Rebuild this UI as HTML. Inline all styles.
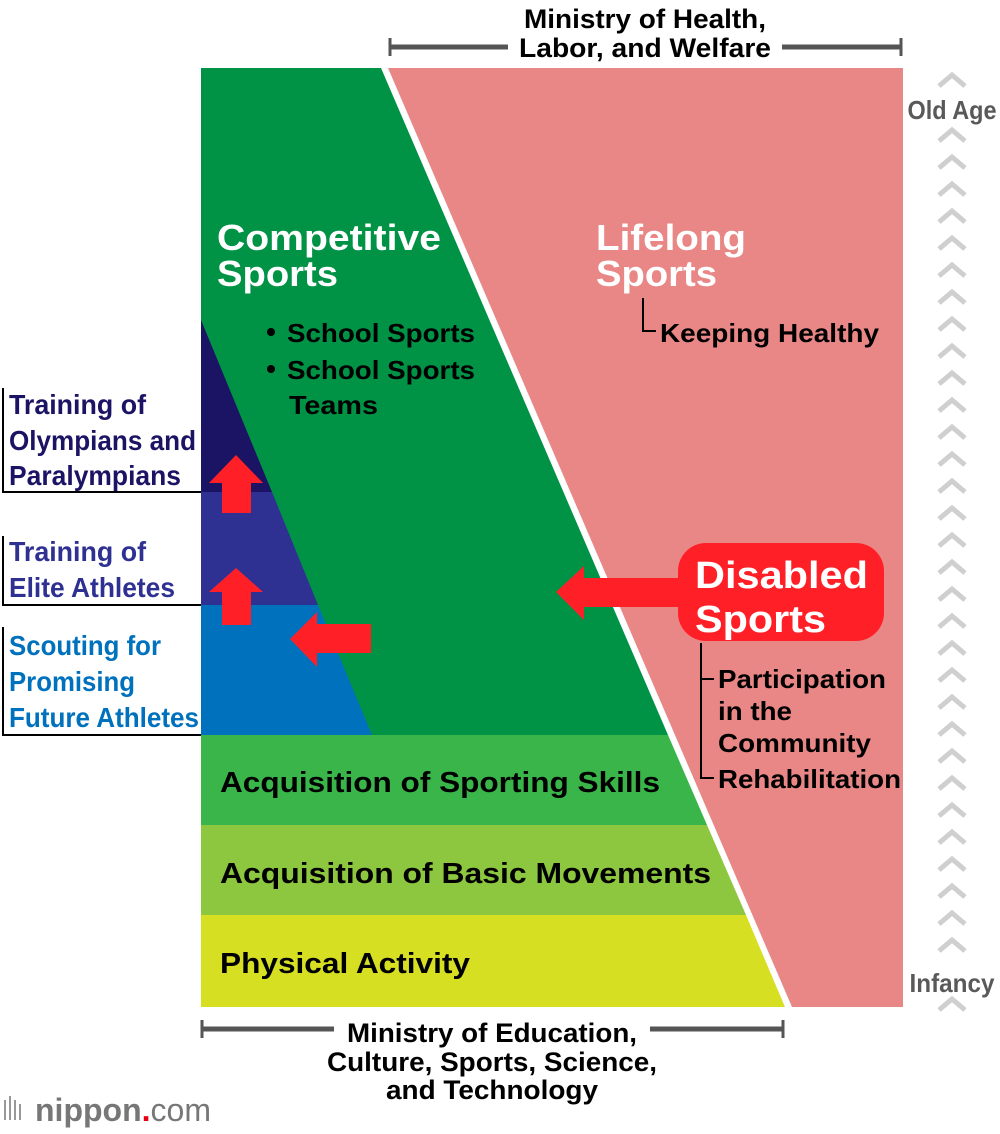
<!DOCTYPE html>
<html><head><meta charset="utf-8"><style>
html,body{margin:0;padding:0;background:#fff}
svg{display:block}
text{font-family:"Liberation Sans",Arial,sans-serif;font-weight:bold}
</style></head><body>
<svg width="1000" height="1134" viewBox="0 0 1000 1134" xmlns="http://www.w3.org/2000/svg">
<polygon points="388,68 903,68 903,1007 792,1007" fill="#e98686"/>
<polygon points="201,68 381,68 668,735 201,735" fill="#009245"/>
<polygon points="201,735 668,735 707,825 201,825" fill="#39b54a"/>
<polygon points="201,825 707,825 746,915 201,915" fill="#8dc63f"/>
<polygon points="201,915 746,915 785,1007 201,1007" fill="#d7df23"/>
<polygon points="201,320 272,492 201,492" fill="#1b1464"/>
<polygon points="201,492 272,492 318,605 201,605" fill="#2e3192"/>
<polygon points="201,605 318,605 372,735 201,735" fill="#0071bc"/>
<polygon points="236,455 263,483 251,483 251,513 222,513 222,483 209,483" fill="#ff2027"/>
<polygon points="236,568 263,592 251,592 251,625 222,625 222,592 209,592" fill="#ff2027"/>
<polygon points="290,639 317,612 317,624 371,624 371,653 317,653 317,667" fill="#ff2027"/>
<polygon points="556,592 584,566 584,578 690,578 690,607 584,607 584,620" fill="#ff2027"/>
<rect x="678" y="543" width="206" height="98" rx="28" fill="#ff2027"/>
<text x="695" y="588" font-size="38" fill="#fff" textLength="173" lengthAdjust="spacingAndGlyphs">Disabled</text>
<text x="695" y="632" font-size="38" fill="#fff" textLength="131" lengthAdjust="spacingAndGlyphs">Sports</text>
<g stroke="#000" stroke-width="2" fill="none">
<polyline points="3,388 3,492 201,492"/>
<polyline points="3,536 3,605 201,605"/>
<polyline points="3,627 3,735 201,735"/>
<polyline points="701,643 701,778 714,778"/>
<line x1="701" y1="679" x2="714" y2="679"/>
<polyline points="643,298 643,331 656,331"/>
</g>
<g font-size="28">
<text x="9" y="414" fill="#1b1464" textLength="137" lengthAdjust="spacingAndGlyphs">Training of</text>
<text x="9" y="450" fill="#1b1464" textLength="187" lengthAdjust="spacingAndGlyphs">Olympians and</text>
<text x="9" y="485" fill="#1b1464" textLength="172" lengthAdjust="spacingAndGlyphs">Paralympians</text>
<text x="9" y="561" fill="#2e3192" textLength="137" lengthAdjust="spacingAndGlyphs">Training of</text>
<text x="9" y="597" fill="#2e3192" textLength="166" lengthAdjust="spacingAndGlyphs">Elite Athletes</text>
<text x="9" y="655" fill="#0071bc" textLength="152" lengthAdjust="spacingAndGlyphs">Scouting for</text>
<text x="9" y="691" fill="#0071bc" textLength="126" lengthAdjust="spacingAndGlyphs">Promising</text>
<text x="9" y="727" fill="#0071bc" textLength="190" lengthAdjust="spacingAndGlyphs">Future Athletes</text>
</g>
<text x="217" y="250" font-size="36" fill="#fff" textLength="224" lengthAdjust="spacingAndGlyphs">Competitive</text>
<text x="217" y="286" font-size="36" fill="#fff" textLength="121" lengthAdjust="spacingAndGlyphs">Sports</text>
<text x="596" y="250" font-size="36" fill="#fff" textLength="150" lengthAdjust="spacingAndGlyphs">Lifelong</text>
<text x="596" y="286" font-size="36" fill="#fff" textLength="121" lengthAdjust="spacingAndGlyphs">Sports</text>
<g font-size="26" fill="#000">
<circle cx="271" cy="332" r="4"/>
<circle cx="271" cy="369" r="4"/>
<text x="287" y="342" textLength="188" lengthAdjust="spacingAndGlyphs">School Sports</text>
<text x="287" y="379" textLength="188" lengthAdjust="spacingAndGlyphs">School Sports</text>
<text x="289" y="414" textLength="89" lengthAdjust="spacingAndGlyphs">Teams</text>
<text x="660" y="342" textLength="219" lengthAdjust="spacingAndGlyphs">Keeping Healthy</text>
<text x="718" y="688" textLength="168" lengthAdjust="spacingAndGlyphs">Participation</text>
<text x="718" y="720" textLength="74" lengthAdjust="spacingAndGlyphs">in the</text>
<text x="718" y="752" textLength="153" lengthAdjust="spacingAndGlyphs">Community</text>
<text x="718" y="788" textLength="183" lengthAdjust="spacingAndGlyphs">Rehabilitation</text>
</g>
<g font-size="29" fill="#000">
<text x="220" y="792" textLength="440" lengthAdjust="spacingAndGlyphs">Acquisition of Sporting Skills</text>
<text x="220" y="883" textLength="491" lengthAdjust="spacingAndGlyphs">Acquisition of Basic Movements</text>
<text x="220" y="973" textLength="250" lengthAdjust="spacingAndGlyphs">Physical Activity</text>
</g>
<g stroke="#555" stroke-width="5">
<line x1="390" y1="47" x2="508" y2="47"/><line x1="782" y1="47" x2="901" y2="47"/>
<line x1="202" y1="1029" x2="334" y2="1029"/><line x1="650" y1="1029" x2="783" y2="1029"/>
</g>
<g stroke="#555" stroke-width="3">
<line x1="390" y1="38" x2="390" y2="56"/><line x1="901" y1="38" x2="901" y2="56"/>
<line x1="202" y1="1020" x2="202" y2="1038"/><line x1="783" y1="1020" x2="783" y2="1038"/>
</g>
<g font-size="27" fill="#000" text-anchor="middle">
<text x="645" y="28" textLength="242" lengthAdjust="spacingAndGlyphs">Ministry of Health,</text>
<text x="645" y="57" textLength="252" lengthAdjust="spacingAndGlyphs">Labor, and Welfare</text>
<text x="492" y="1042" textLength="290" lengthAdjust="spacingAndGlyphs">Ministry of Education,</text>
<text x="492" y="1071" textLength="330" lengthAdjust="spacingAndGlyphs">Culture, Sports, Science,</text>
<text x="492" y="1099" textLength="212" lengthAdjust="spacingAndGlyphs">and Technology</text>
</g>
<g stroke="#cfcfcf" stroke-width="5" fill="none">
<path d="M939,86 L952,75 L965,86"/>
<path d="M939,141 L952,130 L965,141"/><path d="M939,168 L952,157 L965,168"/><path d="M939,195 L952,184 L965,195"/><path d="M939,222 L952,211 L965,222"/><path d="M939,249 L952,238 L965,249"/><path d="M939,276 L952,265 L965,276"/><path d="M939,303 L952,292 L965,303"/><path d="M939,330 L952,319 L965,330"/><path d="M939,357 L952,346 L965,357"/><path d="M939,384 L952,373 L965,384"/><path d="M939,411 L952,400 L965,411"/><path d="M939,438 L952,427 L965,438"/><path d="M939,465 L952,454 L965,465"/><path d="M939,492 L952,481 L965,492"/><path d="M939,519 L952,508 L965,519"/><path d="M939,546 L952,535 L965,546"/><path d="M939,573 L952,562 L965,573"/><path d="M939,600 L952,589 L965,600"/><path d="M939,627 L952,616 L965,627"/><path d="M939,654 L952,643 L965,654"/><path d="M939,681 L952,670 L965,681"/><path d="M939,708 L952,697 L965,708"/><path d="M939,735 L952,724 L965,735"/><path d="M939,762 L952,751 L965,762"/><path d="M939,789 L952,778 L965,789"/><path d="M939,816 L952,805 L965,816"/><path d="M939,843 L952,832 L965,843"/><path d="M939,870 L952,859 L965,870"/><path d="M939,897 L952,886 L965,897"/><path d="M939,924 L952,913 L965,924"/><path d="M939,951 L952,940 L965,951"/><path d="M939,1010 L952,999 L965,1010"/>
</g>
<text x="952" y="119" font-size="26" fill="#595959" text-anchor="middle" textLength="89" lengthAdjust="spacingAndGlyphs">Old Age</text>
<text x="952" y="992" font-size="26" fill="#595959" text-anchor="middle" textLength="85" lengthAdjust="spacingAndGlyphs">Infancy</text>
<g fill="#999"><rect x="4" y="1100" width="2" height="20"/><rect x="9" y="1096" width="2" height="24"/><rect x="14" y="1100" width="2" height="20"/><rect x="19" y="1104" width="2" height="16"/></g>
<text x="35" y="1121" font-size="32" fill="#777">nippon<tspan fill="#e60012">.</tspan><tspan style="font-weight:normal">com</tspan></text>
</svg>
</body></html>
